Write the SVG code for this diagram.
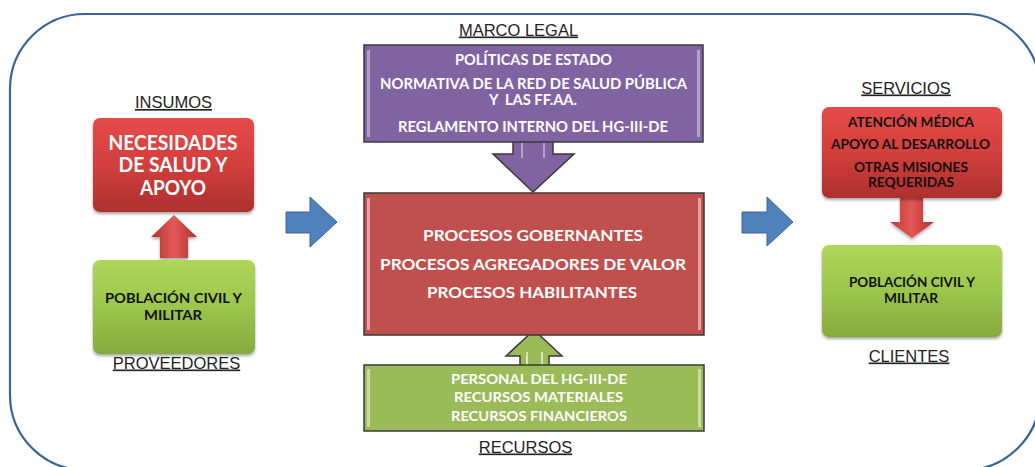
<svg xmlns="http://www.w3.org/2000/svg" width="1035" height="467" viewBox="0 0 1035 467">
<defs>
<linearGradient id="gRed" x1="0" y1="0" x2="0" y2="1"><stop offset="0" stop-color="#e54b49"/><stop offset="0.5" stop-color="#d23f3d"/><stop offset="1" stop-color="#ad2f2d"/></linearGradient>
<linearGradient id="gGreen" x1="0" y1="0" x2="0" y2="1"><stop offset="0" stop-color="#aed65a"/><stop offset="0.5" stop-color="#9cc64c"/><stop offset="1" stop-color="#86ab3e"/></linearGradient>
<linearGradient id="gRedArrow" x1="0" y1="0" x2="1" y2="0"><stop offset="0" stop-color="#b3302e"/><stop offset="0.5" stop-color="#e25a58"/><stop offset="1" stop-color="#b3302e"/></linearGradient>
<linearGradient id="gRedArrowV" x1="0" y1="0" x2="1" y2="0"><stop offset="0" stop-color="#c23836"/><stop offset="0.5" stop-color="#e45856"/><stop offset="1" stop-color="#b3302e"/></linearGradient>
<filter id="sh" x="-10%" y="-10%" width="120%" height="125%"><feDropShadow dx="0" dy="2" stdDeviation="1.5" flood-color="#000" flood-opacity="0.35"/></filter>
<style>
.lbl{font-family:"Liberation Sans",Arial,sans-serif;font-size:16.5px;fill:#222;text-anchor:middle;text-decoration:underline}
.t{font-family:Lato,"Open Sans",sans-serif;font-weight:bold;text-anchor:middle}
.w{fill:#ffffff}
.k{fill:#111111}
.big{stroke:#3a3a3a;stroke-width:1.5}
.blue{fill:#4f81bd;stroke:#3b6496;stroke-width:1}
</style>
</defs>
<rect id="frame" x="10" y="14" width="1030" height="456" rx="75" ry="75" fill="none" stroke="#3b6496" stroke-width="2.2"/>

<g id="connectors">
<polygon id="arrow-insumos" points="174,215 197,237 188,237 188,258 160,258 160,237 151,237" fill="url(#gRedArrow)" filter="url(#sh)"/>
<polygon id="arrow-in" class="blue" points="286,212 310,212 310,197 337,222 310,247 310,233 286,233"/>
<polygon id="arrow-out" class="blue" points="742,212 767,212 767,197 793,222 767,246 767,233 742,233"/>
<polygon id="arrow-marco" class="big" points="513,141 553,141 553,154 574,154 533,192 493,154 513,154" fill="#8064a2"/>
<line x1="522" y1="143" x2="522" y2="158" stroke="#b3a2c7" stroke-width="2"/>
<line x1="544" y1="143" x2="544" y2="158" stroke="#b3a2c7" stroke-width="2"/>
<polygon id="arrow-recursos" class="big" points="534,330 562,356 549,356 549,366 520,366 520,356 506,356" fill="#9bbb59"/>
<line x1="527" y1="352" x2="527" y2="366" stroke="#d7e4bd" stroke-width="2"/>
<line x1="542" y1="352" x2="542" y2="366" stroke="#d7e4bd" stroke-width="2"/>
<polygon id="arrow-servicios" points="900,198 923,198 923,222 934,222 912,238 890,222 900,222" fill="url(#gRedArrowV)" filter="url(#sh)"/>
</g>

<text class="lbl" x="173.5" y="108">INSUMOS</text>
<text class="lbl" x="176.5" y="368.5">PROVEEDORES</text>
<text class="lbl" x="518.5" y="35.5">MARCO LEGAL</text>
<text class="lbl" x="525.5" y="452.5">RECURSOS</text>
<text class="lbl" x="906" y="93.5">SERVICIOS</text>
<text class="lbl" x="909" y="361.5">CLIENTES</text>

<g id="necesidades">
<rect x="93" y="118" width="161" height="94" rx="7" fill="url(#gRed)" filter="url(#sh)"/>
<text class="t w" font-size="20" x="173" y="149.5" textLength="129" lengthAdjust="spacingAndGlyphs">NECESIDADES</text>
<text class="t w" font-size="20" x="173" y="171.5" textLength="109" lengthAdjust="spacingAndGlyphs">DE SALUD Y</text>
<text class="t w" font-size="20" x="173" y="194.5" textLength="66" lengthAdjust="spacingAndGlyphs">APOYO</text>
</g>

<g id="proveedores">
<rect x="93" y="260" width="162" height="94" rx="7" fill="url(#gGreen)" filter="url(#sh)"/>
<text class="t k" font-size="14" x="173.5" y="302.5" textLength="137" lengthAdjust="spacingAndGlyphs">POBLACIÓN CIVIL Y</text>
<text class="t k" font-size="14" x="173" y="319.5" textLength="58" lengthAdjust="spacingAndGlyphs">MILITAR</text>
</g>

<g id="marco-legal">
<rect class="big" x="364" y="45" width="339" height="97" fill="#8064a2"/>
<rect x="367" y="50" width="3" height="87" fill="#b3a2c7"/>
<rect x="697" y="50" width="3" height="87" fill="#b3a2c7"/>
<text class="t w" font-size="15" x="533.5" y="65" textLength="157" lengthAdjust="spacingAndGlyphs">POLÍTICAS DE ESTADO</text>
<text class="t w" font-size="15" x="533.5" y="89" textLength="307" lengthAdjust="spacingAndGlyphs">NORMATIVA DE LA RED DE SALUD PÚBLICA</text>
<text class="t w" font-size="15" x="533" y="105" textLength="88" lengthAdjust="spacingAndGlyphs" xml:space="preserve">Y  LAS FF.AA.</text>
<text class="t w" font-size="15" x="533" y="132" textLength="270" lengthAdjust="spacingAndGlyphs">REGLAMENTO INTERNO DEL HG-III-DE</text>
</g>

<g id="procesos">
<rect class="big" x="364" y="193" width="340" height="142" fill="#c0504d"/>
<rect x="367" y="198" width="3" height="132" fill="#e6a3a1"/>
<rect x="698" y="198" width="3" height="132" fill="#e6a3a1"/>
<text class="t w" font-size="16" x="533" y="240.5" textLength="220" lengthAdjust="spacingAndGlyphs">PROCESOS GOBERNANTES</text>
<text class="t w" font-size="16" x="533" y="269.5" textLength="306" lengthAdjust="spacingAndGlyphs">PROCESOS AGREGADORES DE VALOR</text>
<text class="t w" font-size="16" x="532" y="297.5" textLength="210" lengthAdjust="spacingAndGlyphs">PROCESOS HABILITANTES</text>
</g>

<g id="recursos">
<rect class="big" x="364" y="365" width="340" height="66" fill="#9bbb59"/>
<rect x="367" y="369" width="3" height="58" fill="#c9dca3"/>
<rect x="698" y="369" width="3" height="58" fill="#c9dca3"/>
<text class="t w" font-size="14" x="539" y="384" textLength="176" lengthAdjust="spacingAndGlyphs">PERSONAL DEL HG-III-DE</text>
<text class="t w" font-size="14" x="538.5" y="402" textLength="169" lengthAdjust="spacingAndGlyphs">RECURSOS MATERIALES</text>
<text class="t w" font-size="14" x="539" y="421" textLength="176" lengthAdjust="spacingAndGlyphs">RECURSOS FINANCIEROS</text>
</g>

<g id="servicios">
<rect x="822" y="107" width="180" height="91" rx="7" fill="url(#gRed)" filter="url(#sh)"/>
<text class="t k" font-size="14" x="911" y="126.5" textLength="126" lengthAdjust="spacingAndGlyphs">ATENCIÓN MÉDICA</text>
<text class="t k" font-size="14" x="910.5" y="148.5" textLength="159" lengthAdjust="spacingAndGlyphs">APOYO AL DESARROLLO</text>
<text class="t k" font-size="14" x="911" y="171.5" textLength="114" lengthAdjust="spacingAndGlyphs">OTRAS MISIONES</text>
<text class="t k" font-size="14" x="911" y="186.5" textLength="86" lengthAdjust="spacingAndGlyphs">REQUERIDAS</text>
</g>

<g id="clientes">
<rect x="822" y="245" width="180" height="92" rx="7" fill="url(#gGreen)" filter="url(#sh)"/>
<text class="t k" font-size="14" x="912" y="286.5" textLength="126" lengthAdjust="spacingAndGlyphs">POBLACIÓN CIVIL Y</text>
<text class="t k" font-size="14" x="911" y="302.5" textLength="54" lengthAdjust="spacingAndGlyphs">MILITAR</text>
</g>
</svg>
